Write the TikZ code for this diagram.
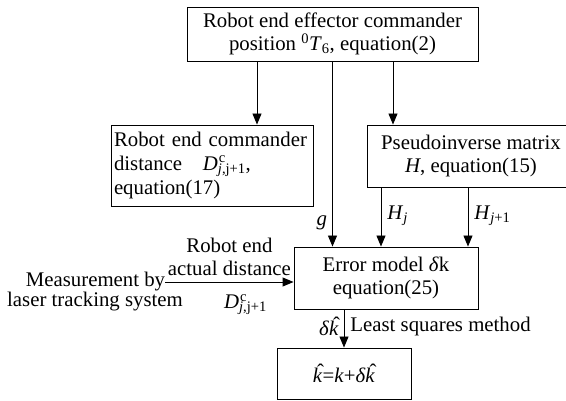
\documentclass[tikz,border=0pt]{standalone}
\usepackage{fontspec}
\setmainfont{Liberation Serif}
\usetikzlibrary{arrows.meta,positioning}
\newcommand{\Dcj}{\textit{D}\rlap{\textsuperscript{\kern1pt c}}\textsubscript{\textit{j},j+1}}
\newcommand{\khat}{\rlap{\kern0.2em\raisebox{0.2em}{ˆ}}\textit{k}}

\begin{document}
\begin{tikzpicture}[x=1pt, y=-1pt,
    font=\fontsize{20.8}{23}\selectfont,
    box/.style={draw, line width=0.9pt, inner sep=0pt, align=center},
    arr/.style={-{Triangle[length=11pt,width=9pt]}, line width=0.9pt},
    lbl/.style={inner sep=0pt, align=center}]
    \clip (0,0) rectangle (566,401);

    % Boxes
    \node[box, minimum width=291pt, minimum height=54pt] (top) at (332.5,34)
        {Robot end effector commander\\position \textsuperscript{0}\textit{T}\textsubscript{6}, equation(2)};
    \node[box, minimum width=202pt, minimum height=81pt, text width=196pt, align=left] (cmd) at (212,165.5)
        {\hyphenpenalty=10000 Robot end commander\\[1pt]distance\quad \Dcj,\\[1pt]equation(17)};
    \node[box, minimum width=208pt, minimum height=62pt] (pinv) at (471,156)
        {Pseudoinverse matrix\\\textit{H}, equation(15)};
    \node[box, minimum width=184pt, minimum height=62pt] (err) at (386,278)
        {Error model \textit{δ}k\\equation(25)};
    \node[box, minimum width=134pt, minimum height=51pt] (res) at (344,373.5)
        {\khat=\textit{k}+\textit{δ}\khat};

    % Measurement input
    \node[lbl] (meas) at (95.5,282) {Measurement by};
    \node[lbl] (laser) at (95,302) {laser tracking system};

    % Tap points
    \coordinate (tapL) at (257,0);
    \coordinate (tapR) at (393,0);
    \coordinate (hj) at (381,0);
    \coordinate (hjj) at (468,0);

    % Connectors
    \draw[arr] (top.south -| tapL) -- (tapL |- cmd.north);
    \draw[arr] (top.south -| tapR) -- (tapR |- pinv.north);
    \draw[arr] (top.south) -- (top.south |- err.north)
        node[lbl, pos=0.87, left=5pt] {\textit{g}};
    \draw[arr] (pinv.south -| hj) -- (hj |- err.north)
        node[lbl, pos=0.48, right=6pt] {\textit{H}\textsubscript{\textit{j}}};
    \draw[arr] (pinv.south -| hjj) -- (hjj |- err.north)
        node[lbl, pos=0.48, right=6pt] {\textit{H}\textsubscript{\textit{j}+1}};
    \draw[arr] (meas.east) -- (meas.east -| err.west)
        node[lbl, midway, above=6pt] {Robot end\\actual distance}
        node[lbl, midway, below=12pt, xshift=16pt] {\Dcj};
    \draw[arr] (res.north |- err.south) -- (res.north)
        node[lbl, pos=0.44, left=5pt] {\textit{δ}\khat}
        node[lbl, pos=0.44, right=6pt] {Least squares method};
\end{tikzpicture}
\end{document}
